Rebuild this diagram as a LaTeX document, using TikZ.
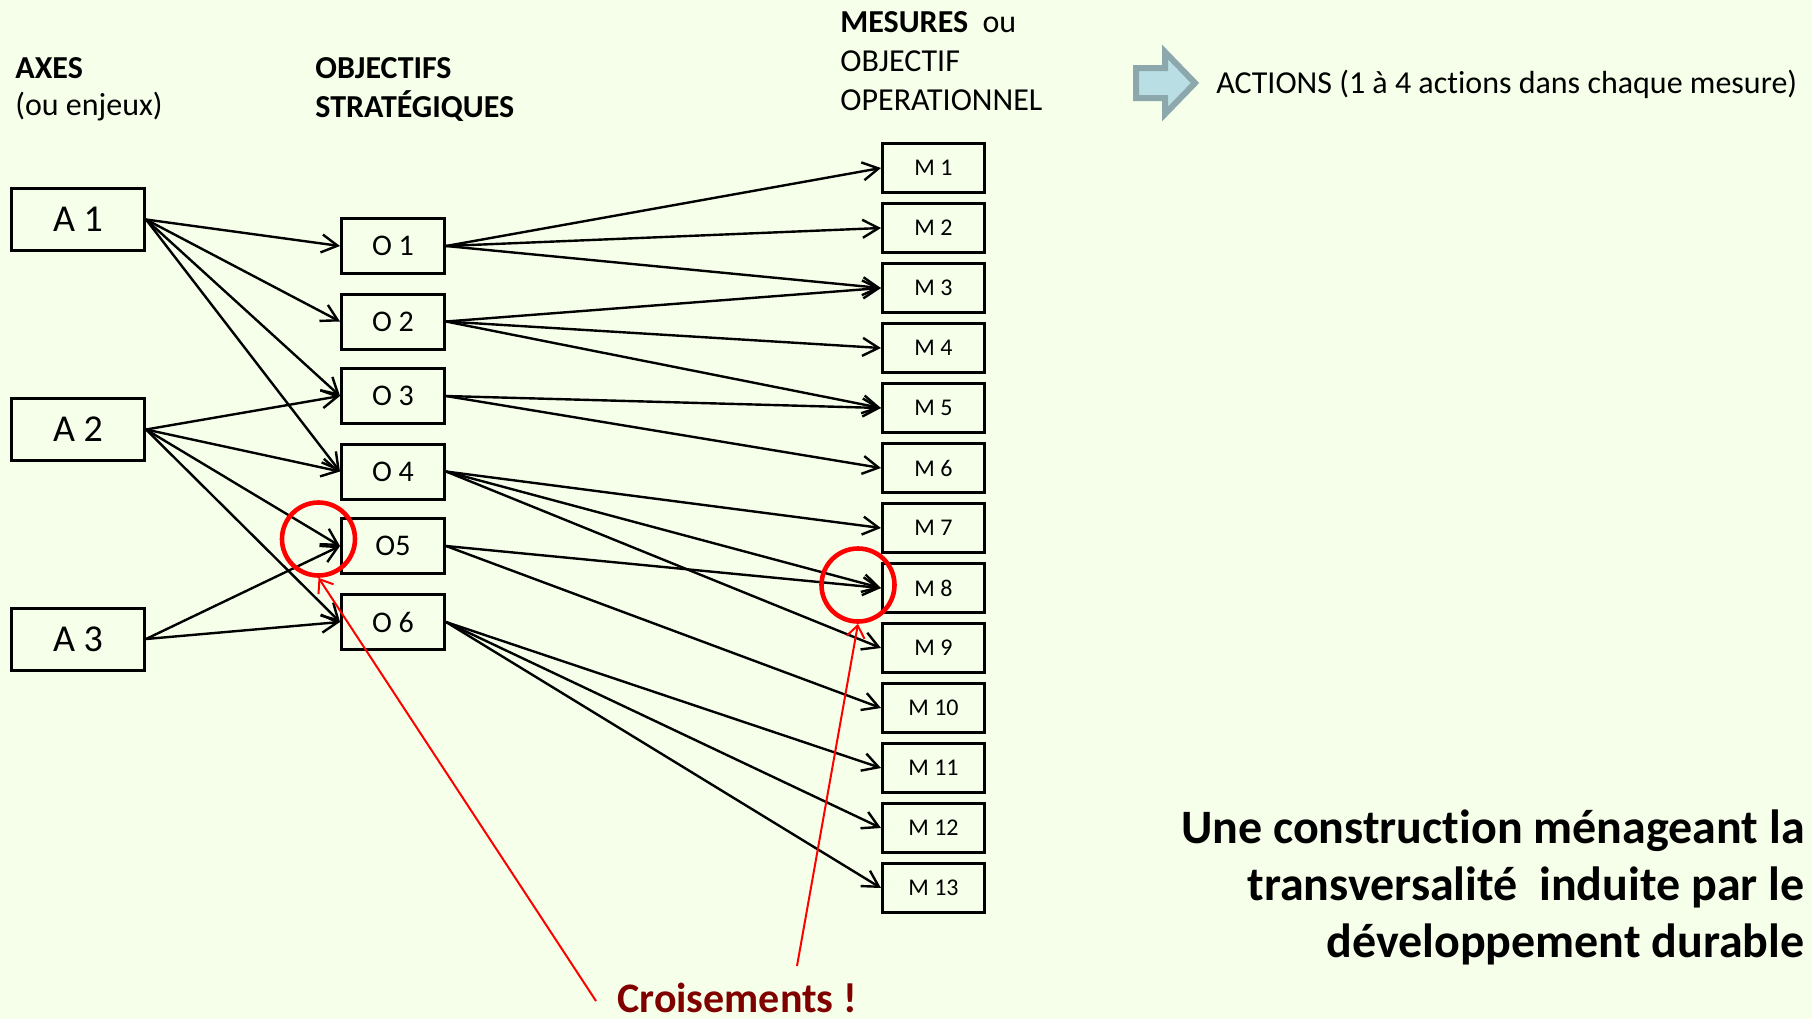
\documentclass[tikz,border=0pt]{standalone}
\usepackage{fontspec}
\setmainfont{Carlito}[Ligatures={TeX,NoCommon}]
\usetikzlibrary{arrows.meta}

\definecolor{fond}{RGB}{246,255,234}
\definecolor{bordeaux}{RGB}{128,0,0}
\definecolor{bleuclair}{RGB}{185,223,228}
\definecolor{bleugris}{RGB}{140,168,172}

\tikzset{
    axe/.style={draw,line width=1.5pt,fill=fond,minimum width=66.5pt,minimum height=31pt,inner sep=0pt,font=\fontsize{19}{22}\selectfont},
    obj/.style={draw,line width=1.5pt,fill=fond,minimum width=51.5pt,minimum height=27.5pt,inner sep=0pt,font=\fontsize{15}{18}\selectfont},
    mes/.style={draw,line width=1.5pt,fill=fond,minimum width=51pt,minimum height=24.5pt,inner sep=0pt,font=\fontsize{12}{14}\selectfont},
    lien/.style={-{Straight Barb[length=8pt,width=9pt]},line width=1.2pt},
    titre/.style={anchor=base west,inner sep=0pt,font=\fontsize{16}{19.5}\selectfont},
    croix/.style={circle,draw=red,line width=2.3pt,minimum size=36.5pt,inner sep=0pt},
    renvoi/.style={red,line width=1pt,-{Straight Barb[length=6pt,width=9pt]}},
    concl/.style={anchor=base east,inner sep=0pt,font=\fontsize{24}{28.5}\selectfont\bfseries},
}

\begin{document}
\begin{tikzpicture}[x=0.5pt,y=-0.5pt]
    \fill[fond](0,0)rectangle(1812,1019);
    \useasboundingbox(0,0)rectangle(1812,1019);

    % titres des colonnes
    \node[titre](tAxes)at(15,78){\textbf{AXES}};
    \node[titre](tEnjeux)at(15,115){(ou enjeux)};
    \node[titre](tObj)at(315,78){\textbf{OBJECTIFS}};
    \node[titre](tStrat)at(315,117){\textbf{STRATÉGIQUES}};
    \node[titre](tMes)at(840,32){\textbf{MESURES}~ ou};
    \node[titre](tObjOp)at(840,71){OBJECTIF};
    \node[titre](tOper)at(840,110){OPERATIONNEL};

    \draw[fill=bleuclair,draw=bleugris,line width=3pt]
        (1136,68)--(1165,68)--(1165,52)--(1195,83)--(1165,114)--(1165,98)--(1136,98)--cycle;
    \node[titre](tActions)at(1216,93){ACTIONS (1 à 4 actions dans chaque mesure)};

    % axes
    \node[axe](A1)at(78,219.5){A 1};
    \node[axe](A2)at(78,429.5){A 2};
    \node[axe](A3)at(78,639){A 3};

    % objectifs strategiques
    \node[obj](O1)at(393,246){O 1};
    \node[obj](O2)at(393,321.5){O 2};
    \node[obj](O3)at(393,396){O 3};
    \node[obj](O4)at(393,471.5){O 4};
    \node[obj](O5)at(393,546){O5};
    \node[obj](O6)at(393,622){O 6};

    % mesures
    \node[mes](M1)at(933.5,168){M 1};
    \node[mes](M2)at(933.5,228){M 2};
    \node[mes](M3)at(933.5,288){M 3};
    \node[mes](M4)at(933.5,348){M 4};
    \node[mes](M5)at(933.5,408){M 5};
    \node[mes](M6)at(933.5,468){M 6};
    \node[mes](M7)at(933.5,528){M 7};
    \node[mes](M8)at(933.5,588){M 8};
    \node[mes](M9)at(933.5,648){M 9};
    \node[mes](M10)at(933.5,708){M 10};
    \node[mes](M11)at(933.5,768){M 11};
    \node[mes](M12)at(933.5,828){M 12};
    \node[mes](M13)at(933.5,888){M 13};

    % axes -> objectifs
    \draw[lien](A1.east)--(O1.west);
    \draw[lien](A1.east)--(O2.west);
    \draw[lien](A1.east)--(O3.west);
    \draw[lien](A1.east)--(O4.west);
    \draw[lien](A2.east)--(O3.west);
    \draw[lien](A2.east)--(O4.west);
    \draw[lien](A2.east)--(O5.west);
    \draw[lien](A2.east)--(O6.west);
    \draw[lien](A3.east)--(O5.west);
    \draw[lien](A3.east)--(O6.west);

    % objectifs -> mesures
    \draw[lien](O1.east)--(M1.west);
    \draw[lien](O1.east)--(M2.west);
    \draw[lien](O1.east)--(M3.west);
    \draw[lien](O2.east)--(M3.west);
    \draw[lien](O2.east)--(M4.west);
    \draw[lien](O2.east)--(M5.west);
    \draw[lien](O3.east)--(M5.west);
    \draw[lien](O3.east)--(M6.west);
    \draw[lien](O4.east)--(M7.west);
    \draw[lien](O4.east)--(M8.west);
    \draw[lien](O4.east)--(M9.west);
    \draw[lien](O5.east)--(M8.west);
    \draw[lien](O5.east)--(M10.west);
    \draw[lien](O6.east)--(M11.west);
    \draw[lien](O6.east)--(M12.west);
    \draw[lien](O6.east)--(M13.west);

    % croisements
    \node[croix](c1)at(318.5,539){};
    \node[croix](c2)at(858,585){};
    \coordinate(r1)at(596,1001);
    \coordinate(r2)at(797,966);
    \draw[renvoi](r1)--(c1.south);
    \draw[renvoi](r2)--(c2.south);
    \node[anchor=base west,inner sep=0pt,text=bordeaux,font=\fontsize{21}{24}\selectfont\bfseries](crois)at(617,1012){Croisements !};

    \node[concl](conc1)at(1805,843){Une construction ménageant la};
    \node[concl](conc2)at(1805,900){transversalité~ induite par le};
    \node[concl](conc3)at(1805,957){développement durable};
\end{tikzpicture}
\end{document}
